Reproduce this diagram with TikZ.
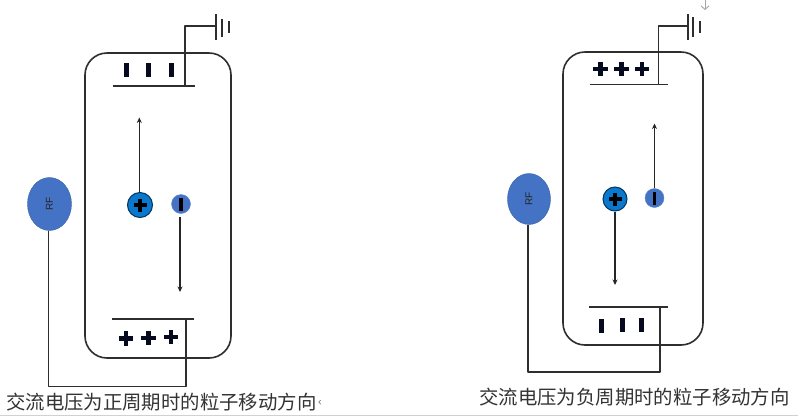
\documentclass[tikz,border=0pt]{standalone}
\usepackage{fontspec}
\newfontfamily\cjk{Noto Sans CJK SC}
\setmainfont{Liberation Sans}
\usetikzlibrary{arrows.meta,calc,shapes.geometric}
\definecolor{rfblue}{HTML}{4472C4}
\definecolor{ballblue}{HTML}{0A78CC}
\definecolor{wire}{HTML}{2E2E2E}
\definecolor{signink}{HTML}{050A1E}
\tikzset{
  x=1pt,y=-1pt,
  wireline/.style={draw=wire,line width=1.6pt,line join=round},
  thinline/.style={draw=wire,line width=1.4pt},
  chamber/.style={draw=wire,line width=1.6pt,rounded corners=22pt},
  motion/.style={draw=black!85,line width=1.3pt,-{Stealth[length=5.5pt,width=5pt]}},
  rfnode/.style={ellipse,fill=rfblue,draw=rfblue!85!black,line width=.4pt,minimum width=44pt,minimum height=53pt,inner sep=0pt},
  posball/.style={circle,fill=ballblue,draw=black!55!ballblue,line width=1pt,inner sep=0pt},
  negball/.style={circle,fill=rfblue,draw=rfblue!85!white,line width=.4pt,inner sep=0pt},
  caption/.style={inner sep=0pt,anchor=west,text=black!80,font=\cjk\fontsize{19.4}{22}\selectfont},
  rflabel/.style={rotate=90,text=black!85,font=\fontsize{10}{10}\selectfont},
  pics/plusmark/.style={code={\fill[signink] (-7.2,-2.4) rectangle (7.2,2.4); \fill[signink] (-2.4,-7.2) rectangle (2.4,7.2);}},
  pics/minusmark/.style={code={\fill[signink] (-2.5,-7.2) rectangle (2.5,7.2);}},
  pics/smallplus/.style={code={\fill[black] (-6.5,-2) rectangle (6.5,2); \fill[black] (-2,-6.5) rectangle (2,6.5);}},
  pics/smallminus/.style={code={\fill[black] (-1.6,-6.5) rectangle (1.6,6.5);}},
}
\begin{document}
\begin{tikzpicture}
\useasboundingbox (0,0) rectangle (798,416);
\fill[white] (0,0) rectangle (798,416);
\fill[black!18] (0,414.5) rectangle (798,416);

% ---------- left panel ----------
\draw[chamber] (85,53) rectangle (231,358);
\coordinate (ltl) at (113,86); \coordinate (ltr) at (195,86); \coordinate (lts) at (185,86);
\coordinate (lbl) at (112,319); \coordinate (lbr) at (194,319); \coordinate (lbs) at (186,319);
\draw[wireline] (ltl) -- (ltr);
\draw[wireline] (lbl) -- (lbr);
\coordinate (lg1) at (216,26);
\draw[wireline] (lts) -- (185,26) -- (lg1);
\draw[thinline,line width=1.6pt] (216,14) -- (216,40);
\draw[thinline] (222,19) -- (222,37);
\draw[thinline] (229,21) -- (229,33);
\foreach \px in {126,148.5,171} \pic at (\px,70) {minusmark};
\pic at (126,338.5) {plusmark}; \pic at (148.5,338) {plusmark}; \pic at (171,337) {plusmark};
\node[rfnode] (lrf) at (49.5,204) {};
\node[rflabel] at (lrf.center) {RF};
\node[posball,minimum size=25pt] (lpos) at (140,205) {};
\pic at (lpos.center) {smallplus};
\node[negball,minimum size=19pt] (lneg) at (181,204) {};
\pic at (lneg.center) {smallminus};
\coordinate (lup) at (139.3,117.5);
\coordinate (ldn) at (180,292);
\draw[motion] (lpos.north -| lup) -- (lup);
\draw[motion] (lneg.south -| ldn) ++(0,3) -- (ldn);
\draw[wireline] (lbs) -- (186,386.5) -- (48.5,386.5) -- (lrf.south -| 48.5,0);
\node[caption] (lcap) at (6,402.5) {交流电压为正周期时的粒子移动方向};
\node[inner sep=0pt,text=black!55,font=\fontsize{11}{11}\selectfont] at (320,402.5) {‹};

% ---------- right panel ----------
\draw[chamber] (563,52) rectangle (703,345);
\coordinate (rtl) at (589.5,84.5); \coordinate (rtr) at (668,84.5); \coordinate (rts) at (658.5,84.5);
\coordinate (rbl) at (589,307); \coordinate (rbr) at (667.5,307); \coordinate (rbs) at (660,307);
\draw[wireline] (rtl) -- (rtr);
\draw[wireline] (rbl) -- (rbr);
\coordinate (rg1) at (688,26);
\draw[wireline] (rts) -- (658.5,26) -- (rg1);
\draw[thinline,line width=1.6pt] (688,14) -- (688,40);
\draw[thinline] (693,17) -- (693,37);
\draw[thinline] (700,21) -- (700,33);
\foreach \px in {600.5,621.5,642} \pic at (\px,69) {plusmark};
\pic at (601,326) {minusmark}; \pic at (622,325) {minusmark}; \pic at (641,325) {minusmark};
\node[rfnode,minimum width=43pt,minimum height=51pt] (rrf) at (529,199) {};
\node[rflabel] at (rrf.center) {RF};
\node[posball,minimum size=24pt] (rpos) at (615,199) {};
\pic at (rpos.center) {smallplus};
\node[negball,minimum size=19pt] (rneg) at (654.5,198) {};
\pic at (rneg.center) {smallminus};
\coordinate (rup) at (654.5,123.5);
\coordinate (rdn) at (615,285);
\draw[motion] (rneg.north) -- (rup);
\draw[motion] (rpos.south) -- (rdn);
\draw[wireline] (rbs) -- (660,372) -- (528,372) -- (rrf.south -| 528,0);
\node[caption] (rcap) at (479,397) {交流电压为负周期时的粒子移动方向};
\coordinate (gs) at (705,0); \coordinate (ge) at (705,10);
\draw[draw=black!35,line width=.9pt,-{Straight Barb[length=3.5pt,width=8pt]}] (gs) -- (ge);
\end{tikzpicture}
\end{document}
